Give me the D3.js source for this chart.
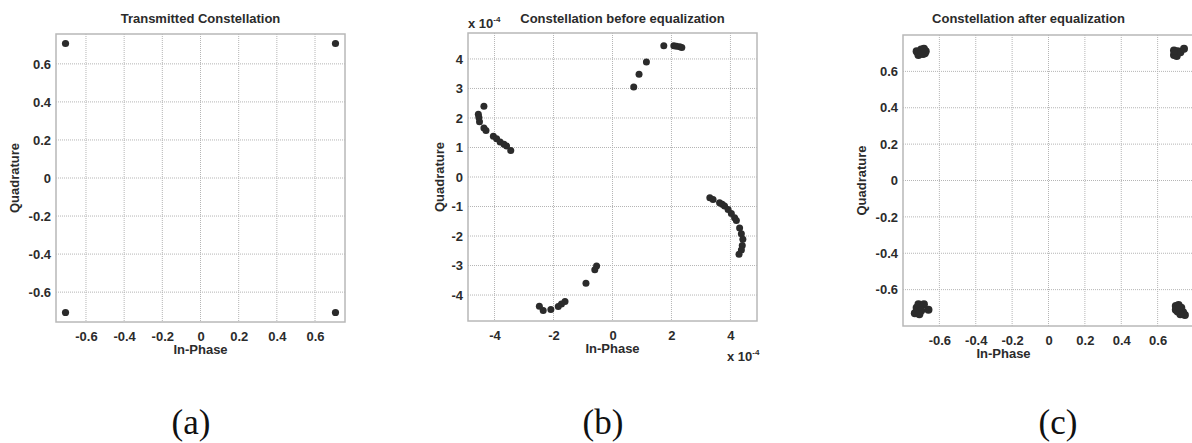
<!DOCTYPE html>
<html>
<head>
<meta charset="utf-8">
<script src="https://cdn.jsdelivr.net/npm/d3@7"></script>
<style>
  body { margin: 0; background: #fff; }
</style>
</head>
<body>
<svg id="chart" width="1192" height="443"></svg>
<script>
// ---- data ----
// (a) transmitted QPSK points
var txI = [-0.7071, 0.7071, -0.7071, 0.7071];
var txQ = [0.7071, 0.7071, -0.7071, -0.7071];

// (b) received before equalization, units of 1e-4
var rxI = [1.74, 2.08, 2.17, 2.28, 2.35, 1.15, 0.90, 0.72,
           -4.36, -4.55, -4.53, -4.51, -4.36, -4.29, -4.04, -3.93, -3.81, -3.68, -3.59, -3.45,
           3.30, 3.41, 3.63, 3.72, 3.80, 3.92, 4.03, 4.14, 4.20, 4.31, 4.37, 4.42, 4.40, 4.37, 4.29,
           -0.54, -0.60, -0.90, -1.61, -1.73, -1.84, -2.09, -2.35, -2.48];
var rxQ = [4.45, 4.45, 4.43, 4.41, 4.39, 3.90, 3.48, 3.05,
           2.40, 2.13, 2.02, 1.87, 1.66, 1.58, 1.38, 1.30, 1.19, 1.11, 1.05, 0.90,
           -0.70, -0.76, -0.87, -0.92, -0.98, -1.10, -1.24, -1.38, -1.47, -1.73, -1.92, -2.11, -2.32, -2.47, -2.62,
           -3.02, -3.14, -3.60, -4.22, -4.30, -4.39, -4.49, -4.52, -4.38];

// (c) after equalization
var eqI = [-0.725, -0.70, -0.675, -0.715, -0.69, -0.68, -0.72, -0.70, -0.685,
           0.69, 0.70, 0.71, 0.705, 0.725, 0.745, 0.69,
           -0.735, -0.725, -0.715, -0.685, -0.70, -0.66, -0.71,
           0.70, 0.715, 0.73, 0.71, 0.74, 0.75, 0.725, 0.70, 0.72];
var eqQ = [0.71, 0.72, 0.71, 0.69, 0.695, 0.70, 0.705, 0.70, 0.725,
           0.69, 0.70, 0.71, 0.685, 0.705, 0.725, 0.715,
           -0.73, -0.70, -0.68, -0.68, -0.715, -0.71, -0.735,
           -0.69, -0.685, -0.70, -0.72, -0.725, -0.74, -0.735, -0.71, -0.70];

var ticksA = [-0.6, -0.4, -0.2, 0, 0.2, 0.4, 0.6];
var ticksBx = [-4, -2, 0, 2, 4];
var ticksBy = [-4, -3, -2, -1, 0, 1, 2, 3, 4];

var titles = ["Transmitted Constellation", "Constellation before equalization", "Constellation after equalization"];
var panelTags = ["(a)", "(b)", "(c)"];

var svg = d3.select("#chart");
var ink = "#2b2b2b";
var sans = "Arial, 'Liberation Sans', sans-serif";

function drawPanel(p) {
  var x = d3.scaleLinear().domain(p.xdom).range([p.left, p.right]);
  var y = d3.scaleLinear().domain(p.ydom).range([p.bottom, p.top]);
  var g = svg.append("g");

  // dotted grid
  g.selectAll("line.gx").data(p.xticks).enter().append("line")
    .attr("x1", d => x(d)).attr("x2", d => x(d))
    .attr("y1", p.top).attr("y2", p.bottom)
    .attr("stroke", "#b5b5b5").attr("stroke-dasharray", "1,1");
  g.selectAll("line.gy").data(p.yticks).enter().append("line")
    .attr("y1", d => y(d)).attr("y2", d => y(d))
    .attr("x1", p.left).attr("x2", p.right)
    .attr("stroke", "#b5b5b5").attr("stroke-dasharray", "1,1");

  // box
  g.append("rect")
    .attr("x", p.left).attr("y", p.top)
    .attr("width", p.right - p.left).attr("height", p.bottom - p.top)
    .attr("fill", "none").attr("stroke", "#b8b8b8").attr("stroke-width", 1.5);

  // axes, only for the tick labels
  var xa = d3.axisBottom(x).tickValues(p.xticks).tickSize(0).tickPadding(10).tickFormat(p.fmt);
  var ya = d3.axisLeft(y).tickValues(p.yticks).tickSize(0).tickPadding(5).tickFormat(p.fmt);
  var gx = g.append("g").attr("transform", "translate(0," + p.bottom + ")").call(xa);
  var gy = g.append("g").attr("transform", "translate(" + p.left + ",0)").call(ya);
  [gx, gy].forEach(function(a){
    a.attr("font-family", null).attr("font-size", null);
    a.select(".domain").remove();
    a.selectAll("text").style("font-size", "13px").style("font-weight", "bold")
      .style("font-family", sans).attr("fill", ink);
  });

  // points
  g.selectAll("circle").data(p.I).enter().append("circle")
    .attr("cx", (d, i) => x(d)).attr("cy", (d, i) => y(p.Q[i]))
    .attr("r", p.r).attr("fill", ink);

  // titles
  function lab(t) {
    return t.style("font-family", sans).style("font-size", "13px").style("font-weight", "bold")
      .attr("text-anchor", "middle").attr("fill", ink);
  }
  lab(g.append("text")).attr("x", (p.left + p.right) / 2 + (p.titleDx || 0)).attr("y", 23).text(p.title);
  lab(g.append("text")).attr("x", (p.left + p.right) / 2 + (p.labelDx || 0)).attr("y", p.bottom + 32).text("In-Phase");
  lab(g.append("text"))
    .attr("transform", "translate(" + p.ylabX + "," + (p.top + p.bottom) / 2 + ") rotate(-90)")
    .text("Quadrature");

  // panel tag
  g.append("text").attr("x", p.tagX).attr("y", 434)
    .attr("text-anchor", "middle")
    .style("font-size", "35px")
    .style("font-family", "'Liberation Serif', 'Times New Roman', serif")
    .attr("fill", "#111").text(p.tag);
  return g;
}

// hyphen minus like the original tick labels
var fmtA = d => d === 0 ? "0" : d3.format(".1f")(d).replace("\u2212", "-");
var fmtB = d => String(d);

drawPanel({ left: 56, right: 345, top: 34, bottom: 322,
  xdom: [-0.757, 0.757], ydom: [-0.757, 0.757],
  xticks: ticksA, yticks: ticksA, fmt: fmtA,
  I: txI, Q: txQ, r: 3.6, title: titles[0], ylabX: 19, tagX: 191, tag: panelTags[0] });

var gb = drawPanel({ left: 468, right: 757, top: 33, bottom: 321,
  xdom: [-4.9, 4.9], ydom: [-4.88, 4.88],
  xticks: ticksBx, yticks: ticksBy, fmt: fmtB,
  I: rxI, Q: rxQ, r: 3.5, title: titles[1], titleDx: 10, ylabX: 444, tagX: 603, tag: panelTags[1] });

// exponent labels for panel (b)
function expLabel(g, xPos, yPos) {
  var t = g.append("text").attr("x", xPos).attr("y", yPos)
    .style("font-family", sans).style("font-size", "13px").style("font-weight", "bold").attr("fill", ink);
  t.append("tspan").text("x 10");
  t.append("tspan").attr("dy", -6).style("font-size", "8px").text("-4");
}
expLabel(gb, 468, 28);
expLabel(gb, 727, 361);

drawPanel({ left: 903, right: 1194, top: 35, bottom: 326,
  xdom: [-0.8, 0.8], ydom: [-0.8, 0.8],
  xticks: ticksA, yticks: ticksA, fmt: fmtA,
  I: eqI, Q: eqQ, r: 4, title: titles[2], titleDx: -20, labelDx: -45, ylabX: 866, tagX: 1058, tag: panelTags[2] });
</script>
</body>
</html>
